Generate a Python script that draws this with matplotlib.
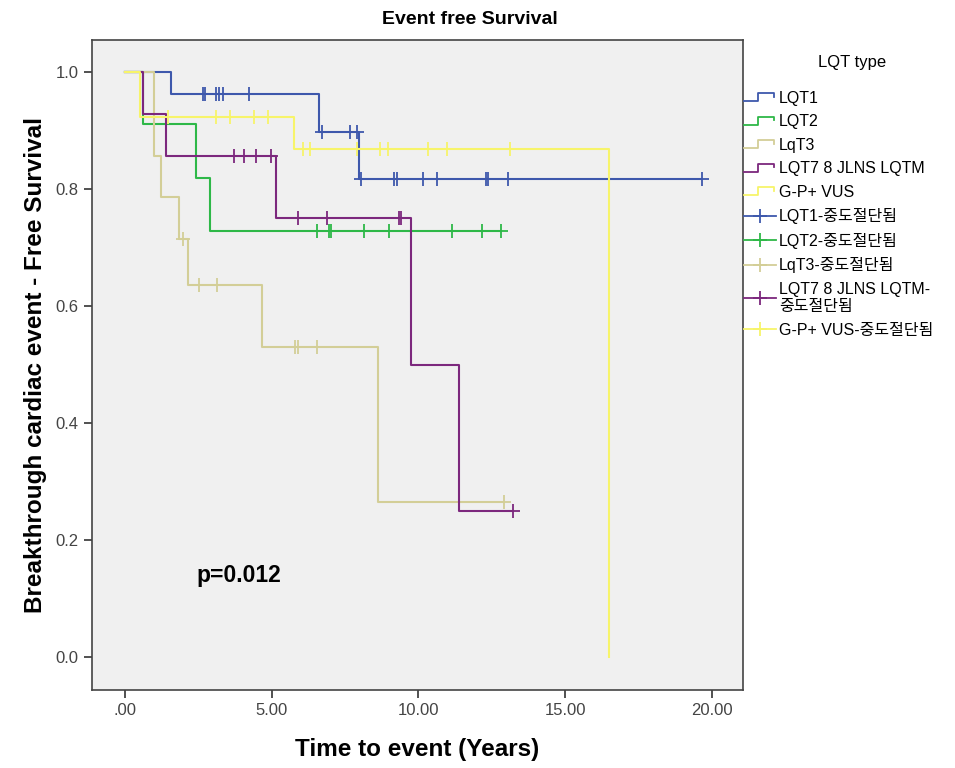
import matplotlib
matplotlib.use("Agg")
import matplotlib.pyplot as plt
import numpy as np
from matplotlib.lines import Line2D
from matplotlib.legend_handler import HandlerBase

plt.rcParams['font.family'] = ['Liberation Sans', 'Noto Sans CJK KR', 'DejaVu Sans']

# groups and SPSS-like colours
groups = ["LQT1", "LQT2", "LqT3", "LQT7 8 JLNS LQTM", "G-P+ VUS"]
colors = ["#3e58ac", "#2eb848", "#d3ce97", "#7c287d", "#f7f46a"]

# event times (years) and survival level after each event
lqt1_events = [1.56, 6.62, 7.97]
lqt1_surv = [0.962, 0.898, 0.817]
lqt1_cens = [2.67, 2.73, 3.10, 3.21, 3.33, 4.24, 6.70, 7.67, 7.89, 8.03,
             9.17, 9.28, 10.14, 10.64, 12.30, 12.36, 13.06, 19.65]

lqt2_events = [0.60, 2.42, 2.90]
lqt2_surv = [0.911, 0.819, 0.728]
lqt2_cens = [6.56, 6.96, 7.03, 8.14, 8.98, 11.13, 12.15, 12.83]

lqt3_events = [1.00, 1.22, 1.85, 2.14, 4.66, 8.63]
lqt3_surv = [0.857, 0.786, 0.714, 0.636, 0.530, 0.265]
lqt3_cens = [1.99, 2.53, 3.12, 5.80, 5.88, 6.56, 12.91]

lqt7_events = [0.62, 1.40, 5.14, 9.73, 11.39]
lqt7_surv = [0.929, 0.857, 0.750, 0.500, 0.250]
lqt7_cens = [3.72, 4.05, 4.46, 4.97, 5.88, 6.89, 9.35, 9.42, 13.23]

vus_events = [0.50, 5.76, 16.49]
vus_surv = [0.923, 0.868, 0.0]
vus_cens = [1.47, 3.10, 3.58, 4.40, 4.87, 6.08, 6.30, 7.89, 8.69, 8.96,
            10.33, 10.96, 13.12]

events = [lqt1_events, lqt2_events, lqt3_events, lqt7_events, vus_events]
survs = [lqt1_surv, lqt2_surv, lqt3_surv, lqt7_surv, vus_surv]
censs = [lqt1_cens, lqt2_cens, lqt3_cens, lqt7_cens, vus_cens]

xticks = [0, 5, 10, 15, 20]
xticklabels = [".00", "5.00", "10.00", "15.00", "20.00"]
yticks = [0.0, 0.2, 0.4, 0.6, 0.8, 1.0]


class StepHandler(HandlerBase):
    def create_artists(self, legend, orig_handle, xdescent, ydescent,
                       width, height, fontsize, trans):
        x0, y0 = -xdescent, -ydescent
        lo, hi = y0 + 0.15 * height, y0 + 0.85 * height
        xs = [x0, x0 + 0.45 * width, x0 + 0.45 * width, x0 + 0.95 * width, x0 + 0.95 * width]
        ys = [lo, lo, hi, hi, y0 + 0.55 * height]
        ln = Line2D(xs, ys, color=orig_handle.get_color(), lw=1.3, transform=trans)
        return [ln]


fig = plt.figure(figsize=(9.55, 7.68), dpi=100)
ax = fig.add_axes([92 / 955, 1 - 690 / 768, (743 - 92) / 955, 650 / 768])
ax.set_facecolor("#f0f0f0")

step_lines = []
for ev, sv, cs, col in zip(events, survs, censs, colors):
    end = max(max(ev), max(cs))
    xs = [0.0] + ev + [end]
    ys = [1.0] + sv + [sv[-1]]
    ln, = ax.step(xs, ys, where="post", color=col, lw=1.5)
    step_lines.append(ln)

for ev, sv, cs, col in zip(events, survs, censs, colors):
    lev = np.array([1.0] + sv)
    idx = np.searchsorted(ev, cs, side="right")
    ax.plot(cs, lev[idx], linestyle="none", marker="+", ms=10, mew=1.3, color=col)

ax.set_xlim(-1.124, 21.06)
ax.set_ylim(-0.0564, 1.0547)
ax.set_xticks(xticks)
ax.set_xticklabels(xticklabels)
ax.set_yticks(yticks)
ax.set_yticklabels([f"{v:.1f}" for v in yticks])
ax.tick_params(direction="out", length=6, width=1.2, labelsize=12,
               labelcolor="#444444", color="#333333")
for sp in ax.spines.values():
    sp.set_color("#444444")
    sp.set_linewidth(1.2)

fig.text(470 / 955, 1 - 20 / 768, "Event free Survival", fontsize=14,
         fontweight="bold", ha="center", va="center")
ax.set_xlabel("Time to event (Years)", fontsize=17.5, fontweight="bold", labelpad=14)
ax.set_ylabel("Breakthrough cardiac event - Free Survival", fontsize=17.5,
              fontweight="bold", labelpad=6)

ax.text(2.42, 0.14, "p=0.012", fontsize=16.5, fontweight="bold", va="center", ha="left")

cens_proxies = [Line2D([], [], color=c, lw=1.3, marker="+", ms=10, mew=1.3) for c in colors]
labels = groups + [
    "LQT1-중도절단됨",
    "LQT2-중도절단됨",
    "LqT3-중도절단됨",
    "LQT7 8 JLNS LQTM-\n중도절단됨",
    "G-P+ VUS-중도절단됨",
]
handler_map = {ln: StepHandler() for ln in step_lines}
leg = fig.legend(step_lines + cens_proxies, labels, handler_map=handler_map,
                 loc="upper left", bbox_to_anchor=(744 / 955, 1 - 91 / 768),
                 bbox_transform=fig.transFigure, frameon=False, fontsize=11.5,
                 handlelength=2.0, handletextpad=0.2, labelspacing=0.53,
                 borderpad=0, borderaxespad=0, numpoints=1)
fig.text(852 / 955, 1 - 62 / 768, "LQT type", fontsize=12, ha="center", va="center")

fig.savefig("out.png", dpi=100, facecolor="white")
